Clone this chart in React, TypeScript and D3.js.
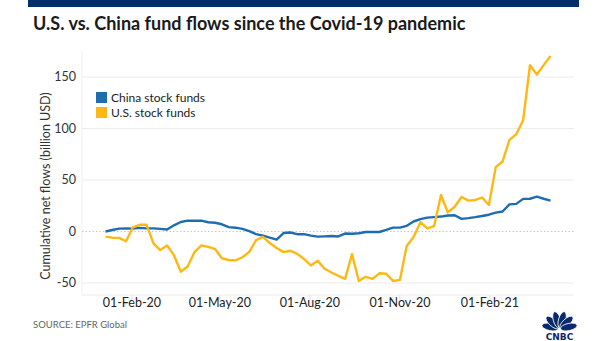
import React from "react";
import * as d3 from "d3";

const W = 605;
const H = 341;

const startDate = new Date(2020, 0, 5);
const chinaValues = [
  0, 1.5, 2.8, 3, 2.8, 3.5, 3, 3, 2.5, 2, 6, 9.2, 10.5, 10.5, 10.5, 9, 8.5, 7, 4.3, 3.7,
  2.6, 0.3, -2.5, -4, -6, -7.8, -1.5, -1, -2.6, -2.5, -4, -5, -4.7, -4.3, -4.8, -2, -2.2,
  -1.7, -0.5, -0.5, -0.5, 1.5, 3.8, 3.8, 5.5, 9.7, 12, 13.5, 14, 14.5, 15.5, 15.8, 12.3,
  13, 13.9, 15, 16.3, 18.3, 19.4, 26.3, 26.8, 31.7, 31.8, 33.8, 31.8, 30,
];
const usValues = [
  -5, -6, -6.2, -9.5, 4, 6.5, 6.5, -11.5, -18, -13.5, -23, -39, -34, -20, -13.5, -15, -17,
  -26, -27.7, -28, -25, -19.8, -8.3, -5.3, -11.2, -16, -20, -18.7, -21.7, -26.7, -33,
  -28.5, -36.2, -39.8, -43, -46, -22, -48, -44, -46, -40.6, -41, -48, -47, -14, -5.3, 9,
  3, 5.3, 35.4, 18.5, 24, 33.5, 30, 30.6, 33, 25.7, 62.5, 68, 89, 94.5, 108, 161.5, 152.5,
  161.5, 170.5,
];
const seriesNames = ["China stock funds", "U.S. stock funds"];
const seriesColors = ["#1f6db1", "#fdb813"];
const yTicks = [-50, 0, 50, 100, 150];
const xTickDates = [
  new Date(2020, 1, 1),
  new Date(2020, 4, 1),
  new Date(2020, 7, 1),
  new Date(2020, 10, 1),
  new Date(2021, 1, 1),
];
const xTickLabels = ["01-Feb-20", "01-May-20", "01-Aug-20", "01-Nov-20", "01-Feb-21"];

const FONT = "Lato, 'Open Sans', Arial, sans-serif";

export default function App() {
  const dates = chinaValues.map((_, i) => d3.timeDay.offset(startDate, i * 7));
  const x = d3
    .scaleTime()
    .domain([new Date(2019, 11, 12), new Date(2021, 3, 28)])
    .range([82, 574]);
  const y = d3.scaleLinear().domain([-50, 150]).range([283, 77]);
  const line = d3
    .line<number>()
    .x((_, i) => x(dates[i]))
    .y((d) => y(d));
  const series = [chinaValues, usValues];
  const axisY = 295;

  const cx = 559.5;
  const cy = 330;
  const angles = [-78, -47, -16, 16, 47, 78];

  return (
    <svg
      width={W}
      height={H}
      style={{ position: "absolute", left: 0, top: 0, background: "#fff" }}
      fontFamily={FONT}
    >
      <rect x={0} y={0} width={W} height={H} fill="#fff" />
      <rect x={28} y={0} width={551} height={7} fill="#002e6d" />
      <text x={33} y={30} fontSize={18} fontWeight={700} fill="#1a1a1a">
        U.S. vs. China fund flows since the Covid-19 pandemic
      </text>

      <line x1={82} x2={82} y1={50} y2={axisY} stroke="#f0f0f0" />
      {yTicks.map((t) => (
        <g key={t}>
          <line
            x1={82}
            x2={574}
            y1={y(t)}
            y2={y(t)}
            stroke={t === 0 ? "#c8c8c8" : "#ececec"}
            strokeDasharray={t === 0 ? "1.5,2" : undefined}
          />
          <text
            x={76}
            y={y(t)}
            dy="0.35em"
            textAnchor="end"
            fontSize={12.5}
            fill="#333"
          >
            {t}
          </text>
        </g>
      ))}
      <line x1={82} x2={574} y1={axisY} y2={axisY} stroke="#ececec" />
      {xTickDates.map((d, i) => (
        <g key={i}>
          <line x1={x(d)} x2={x(d)} y1={axisY} y2={axisY + 5} stroke="#e0e0e0" />
          <text
            x={x(d)}
            y={axisY + 8}
            dy="0.35em"
            textAnchor="middle"
            fontSize={12.5}
            fill="#222"
          >
            {xTickLabels[i]}
          </text>
        </g>
      ))}

      <text
        transform={`translate(46,${(y(150) + y(-50)) / 2 + 6}) rotate(-90)`}
        textAnchor="middle"
        dy="0.35em"
        fontSize={12.5}
        fill="#333"
      >
        Cumulative net flows (billion USD)
      </text>

      {series.map((s, i) => (
        <path
          key={i}
          d={line(s) || ""}
          fill="none"
          stroke={seriesColors[i]}
          strokeWidth={2.4}
          strokeLinejoin="round"
        />
      ))}

      {seriesNames.map((n, i) => (
        <g key={n} transform={`translate(96,${92 + i * 15})`}>
          <rect x={0} y={0} width={11} height={11} fill={seriesColors[i]} />
          <text x={15} y={5.5} dy="0.35em" fontSize={12} fill="#222">
            {n}
          </text>
        </g>
      ))}

      <text x={33} y={328} fontSize={9.5} fill="#666">
        SOURCE: EPFR Global
      </text>

      <g fill="#0b2a6b">
        {angles.map((a) => {
          const rad = (a * Math.PI) / 180;
          const r = 9.5;
          const ex = cx + Math.sin(rad) * r;
          const ey = cy - 1 - Math.cos(rad) * r;
          return (
            <ellipse
              key={a}
              cx={ex}
              cy={ey}
              rx={3.6}
              ry={8.5}
              transform={`rotate(${a},${ex},${ey})`}
              stroke="#fff"
              strokeWidth={0.8}
            />
          );
        })}
        <text
          x={cx}
          y={339.5}
          textAnchor="middle"
          fontSize={9}
          fontWeight={900}
          fontFamily="'DejaVu Sans', Arial, sans-serif"
        >
          CNBC
        </text>
      </g>
    </svg>
  );
}
